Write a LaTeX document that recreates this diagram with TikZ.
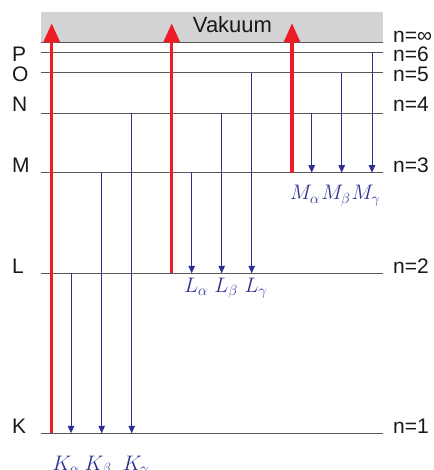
\documentclass[tikz,border=0pt]{standalone}
\usepackage{fix-cm}
\usepackage{fontspec}
\setmainfont{Liberation Sans}
\usepackage{tikz}
\usetikzlibrary{arrows.meta}
\definecolor{ShellGray}{HTML}{58595B}
\definecolor{VacuumGray}{HTML}{D1D3D4}
\definecolor{IonRed}{HTML}{ED1C24}
\definecolor{EmitBlue}{HTML}{2E3192}
\begin{document}
\begin{tikzpicture}[x=1pt,y=-1pt,
  shellline/.style={draw=ShellGray,line width=1.4pt},
  ionize/.style={draw=IonRed,line width=3.3pt,-{Triangle[length=19pt,width=16pt]}},
  emit/.style={draw=EmitBlue,line width=1pt,-{Triangle[length=7.5pt,width=6.5pt]}},
  shell/.style={inner sep=0pt,anchor=base west,text=black!90,font=\fontsize{21}{24}\selectfont},
  xline/.style={inner sep=0pt,anchor=base,text=EmitBlue,font=\fontsize{21}{24}\selectfont}]
  \useasboundingbox (0,0) rectangle (433,470);
  % vacuum band
  \fill[VacuumGray] (40.7,12.3) rectangle (382.7,42.7);
  \node[inner sep=0pt,anchor=base,text=black!90,font=\fontsize{22}{24}\selectfont] (vac) at (232.5,33) {Vakuum};
  % shells
  \coordinate (inf) at (40.7,42.7);
  \coordinate (P) at (40.7,52.3);
  \coordinate (O) at (40.7,72.7);
  \coordinate (N) at (40.7,113.3);
  \coordinate (M) at (40.7,172.7);
  \coordinate (L) at (40.7,273.3);
  \coordinate (K) at (40.7,433.3);
  \coordinate (top) at (0,23.3);
  \draw[shellline] (inf) -- ++(342,0);
  \draw[shellline] (P) -- ++(342,0);
  \draw[shellline] (O) -- ++(342,0);
  \draw[shellline] (N) -- ++(342,0);
  \draw[shellline] (M) -- ++(342,0);
  \draw[shellline] (L) -- ++(342,0);
  \draw[shellline] (K) -- ++(342,0);
  % K series
  \draw[emit] (71,0 |- L) -- (71,0 |- K);
  \draw[emit] (101.7,0 |- M) -- (101.7,0 |- K);
  \draw[emit] (131.7,0 |- N) -- (131.7,0 |- K);
  % L series
  \draw[emit] (191.7,0 |- M) -- (191.7,0 |- L);
  \draw[emit] (221.7,0 |- N) -- (221.7,0 |- L);
  \draw[emit] (251.7,0 |- O) -- (251.7,0 |- L);
  % M series
  \draw[emit] (311.7,0 |- N) -- (311.7,0 |- M);
  \draw[emit] (341.7,0 |- O) -- (341.7,0 |- M);
  \draw[emit] (372,0 |- P) -- (372,0 |- M);
  % ionisation
  \draw[ionize] (51.7,0 |- K) -- (51.7,0 |- top);
  \draw[ionize] (171.7,0 |- L) -- (171.7,0 |- top);
  \draw[ionize] (292,0 |- M) -- (292,0 |- top);
  % shell names
  \node[shell] (shP) at (12,62) {P};
  \node[shell] (shO) at (12,82) {O};
  \node[shell] (shN) at (12,112) {N};
  \node[shell] (shM) at (12,172.7) {M};
  \node[shell] (shL) at (12,273.3) {L};
  \node[shell] (shK) at (12,433.3) {K};
  \node[shell] (ninf) at (393,42.7) {n=∞};
  \node[shell] (n6) at (393,62) {n=6};
  \node[shell] (n5) at (393,82) {n=5};
  \node[shell] (n4) at (393,112) {n=4};
  \node[shell] (n3) at (393,172.7) {n=3};
  \node[shell] (n2) at (393,273.3) {n=2};
  \node[shell] (n1) at (393,433.3) {n=1};
  % line names
  \node[xline] (Ka) at (66,470) {$K_\alpha$};
  \node[xline] (Kb) at (98,470) {$K_\beta$};
  \node[xline] (Kg) at (136,470) {$K_\gamma$};
  \node[xline] (La) at (196,292) {$L_\alpha$};
  \node[xline] (Lb) at (226,292) {$L_\beta$};
  \node[xline] (Lg) at (256,292) {$L_\gamma$};
  \node[xline] (Ma) at (305,200) {$M_\alpha$};
  \node[xline] (Mb) at (336,200) {$M_\beta$};
  \node[xline] (Mg) at (366,200) {$M_\gamma$};
\end{tikzpicture}
\end{document}
